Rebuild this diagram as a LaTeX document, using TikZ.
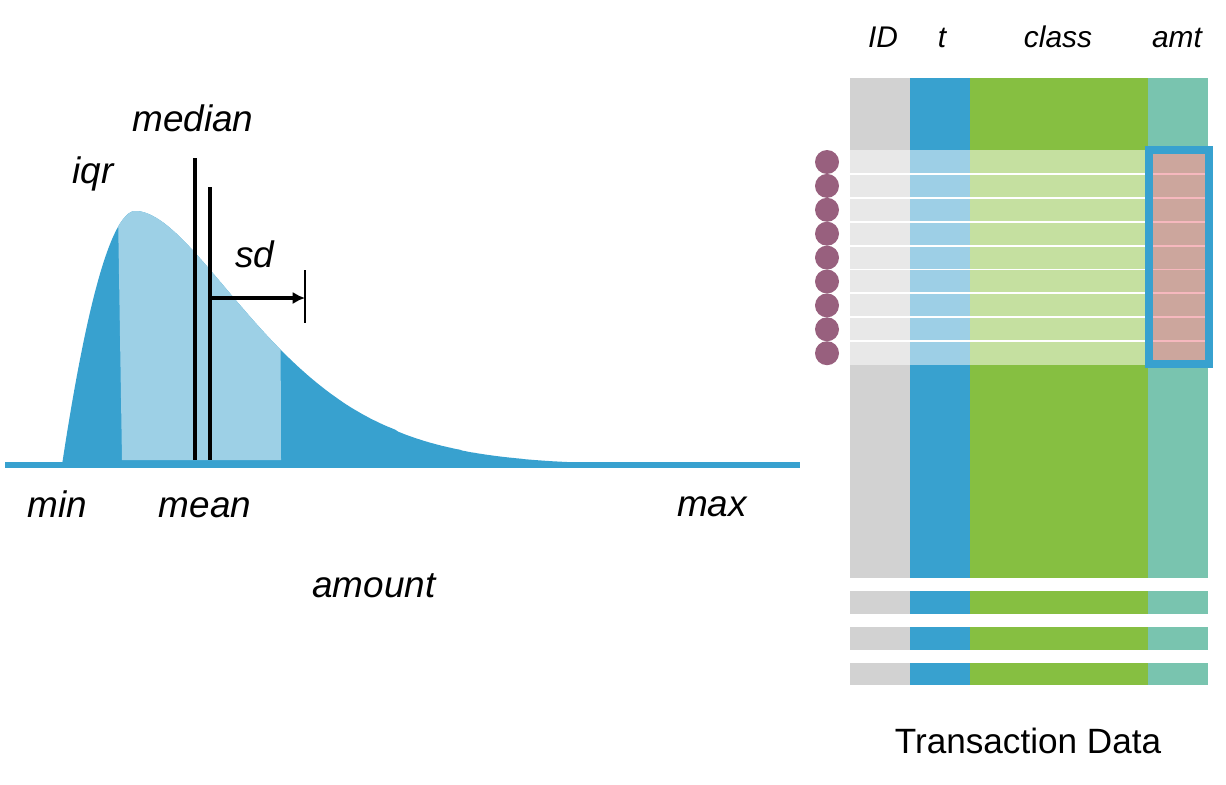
\documentclass[tikz,border=0pt]{standalone}
\usepackage{fontspec}
\setsansfont{Liberation Sans}
\usepackage{tikz}
\usetikzlibrary{arrows.meta}

\definecolor{curveblue}{HTML}{38A1CF}
\definecolor{curvelight}{HTML}{9DD0E6}
\definecolor{idgray}{HTML}{D2D2D2}
\definecolor{idlight}{HTML}{E8E8E8}
\definecolor{tlight}{HTML}{9DCFE6}
\definecolor{clgreen}{HTML}{86BF41}
\definecolor{cllight}{HTML}{C5E0A0}
\definecolor{amtteal}{HTML}{79C4AF}
\definecolor{amtpink}{HTML}{CCA69D}
\definecolor{pinkline}{HTML}{F6B8BE}
\definecolor{dotpurple}{HTML}{98607E}

\begin{document}
\begin{tikzpicture}[
  x=0.02cm, y=-0.02cm,
  lbl/.style={font=\sffamily\itshape\fontsize{21}{24}\selectfont, anchor=base, inner sep=0pt},
  hdr/.style={font=\sffamily\itshape\fontsize{17}{20}\selectfont, anchor=base, inner sep=0pt},
  vline/.style={line width=2.2pt},
  sep/.style={white, line width=1.1pt},
  arr/.style={-{Latex[length=7pt, width=7pt]}, line width=2.2pt}
]
  \useasboundingbox (0,0) rectangle (1226,784);

  % distribution of amounts (skewed, peak near x=135)
  \def\amtcurve{(62,465)
    -- plot[domain=62:134.8, samples=60] (\x, {465-254*(1-pow(1-(\x-62)/73, 1.9))})
    -- plot[domain=135:600, samples=160]
       (\x, {465-254*pow(((\x-62)/73)*exp(1-(\x-62)/73), 0.7+0.06*(\x-62)/73)})
    -- (600,465) -- cycle}
  \fill[curveblue] \amtcurve;
  \begin{scope}
    \clip (117,150) -- (122,460) -- (281,460) -- (280,150) -- cycle;
    \fill[curvelight] \amtcurve;
  \end{scope}
  \draw[curveblue, line width=3.2pt] (5,465) -- (800,465);

  \draw[vline] (195,158) -- (195,460);
  \draw[vline] (210,187) -- (210,460);
  \coordinate (sdstart) at (210,298);
  \coordinate (sdend) at (305,298);
  \draw[arr] (sdstart) -- (sdend);
  \draw[line width=1.1pt] (305,270) -- (305,323);

  \node[lbl] (median) at (193,132) {median};
  \node[lbl] (iqr) at (93,183) {iqr};
  \node[lbl] (sd) at (255,267) {sd};
  \node[lbl] (min) at (57,517) {min};
  \node[lbl] (mean) at (205,517) {mean};
  \node[lbl] (max) at (712,516) {max};
  \node[lbl] (amount) at (374,597) {amount};

  % transaction table
  \foreach \xa/\xb/\dk/\lt in {850/910/idgray/idlight, 910/970/curveblue/tlight,
      970/1148/clgreen/cllight, 1148/1208/amtteal/amtpink} {
    \fill[\dk] (\xa,78) rectangle (\xb,150);
    \fill[\lt] (\xa,150) rectangle (\xb,365);
    \fill[\dk] (\xa,365) rectangle (\xb,578);
    \foreach \ya/\yb in {591/614, 627/650, 663/685}
      \fill[\dk] (\xa,\ya) rectangle (\xb,\yb);
  }
  \foreach \k in {1,...,8} {
    \draw[sep] (850,{150+23.9*\k}) -- (1148,{150+23.9*\k});
    \draw[pinkline, line width=1.1pt] (1148,{150+23.9*\k}) -- (1208,{150+23.9*\k});
  }
  \draw[curveblue, line width=4.5pt] (1149,150) rectangle (1209,364);
  \foreach \k in {0,...,8}
    \fill[dotpurple] (827,{162+23.9*\k}) circle[radius=0.24cm];

  \node[hdr] (hid) at (883,48) {ID};
  \node[hdr] (ht) at (942,48) {t};
  \node[hdr] (hclass) at (1058,48) {class};
  \node[hdr] (hamt) at (1177,48) {amt};
  \node[font=\sffamily\fontsize{20}{24}\selectfont, anchor=base, inner sep=0pt]
    (title) at (1028,753) {Transaction Data};
\end{tikzpicture}
\end{document}
